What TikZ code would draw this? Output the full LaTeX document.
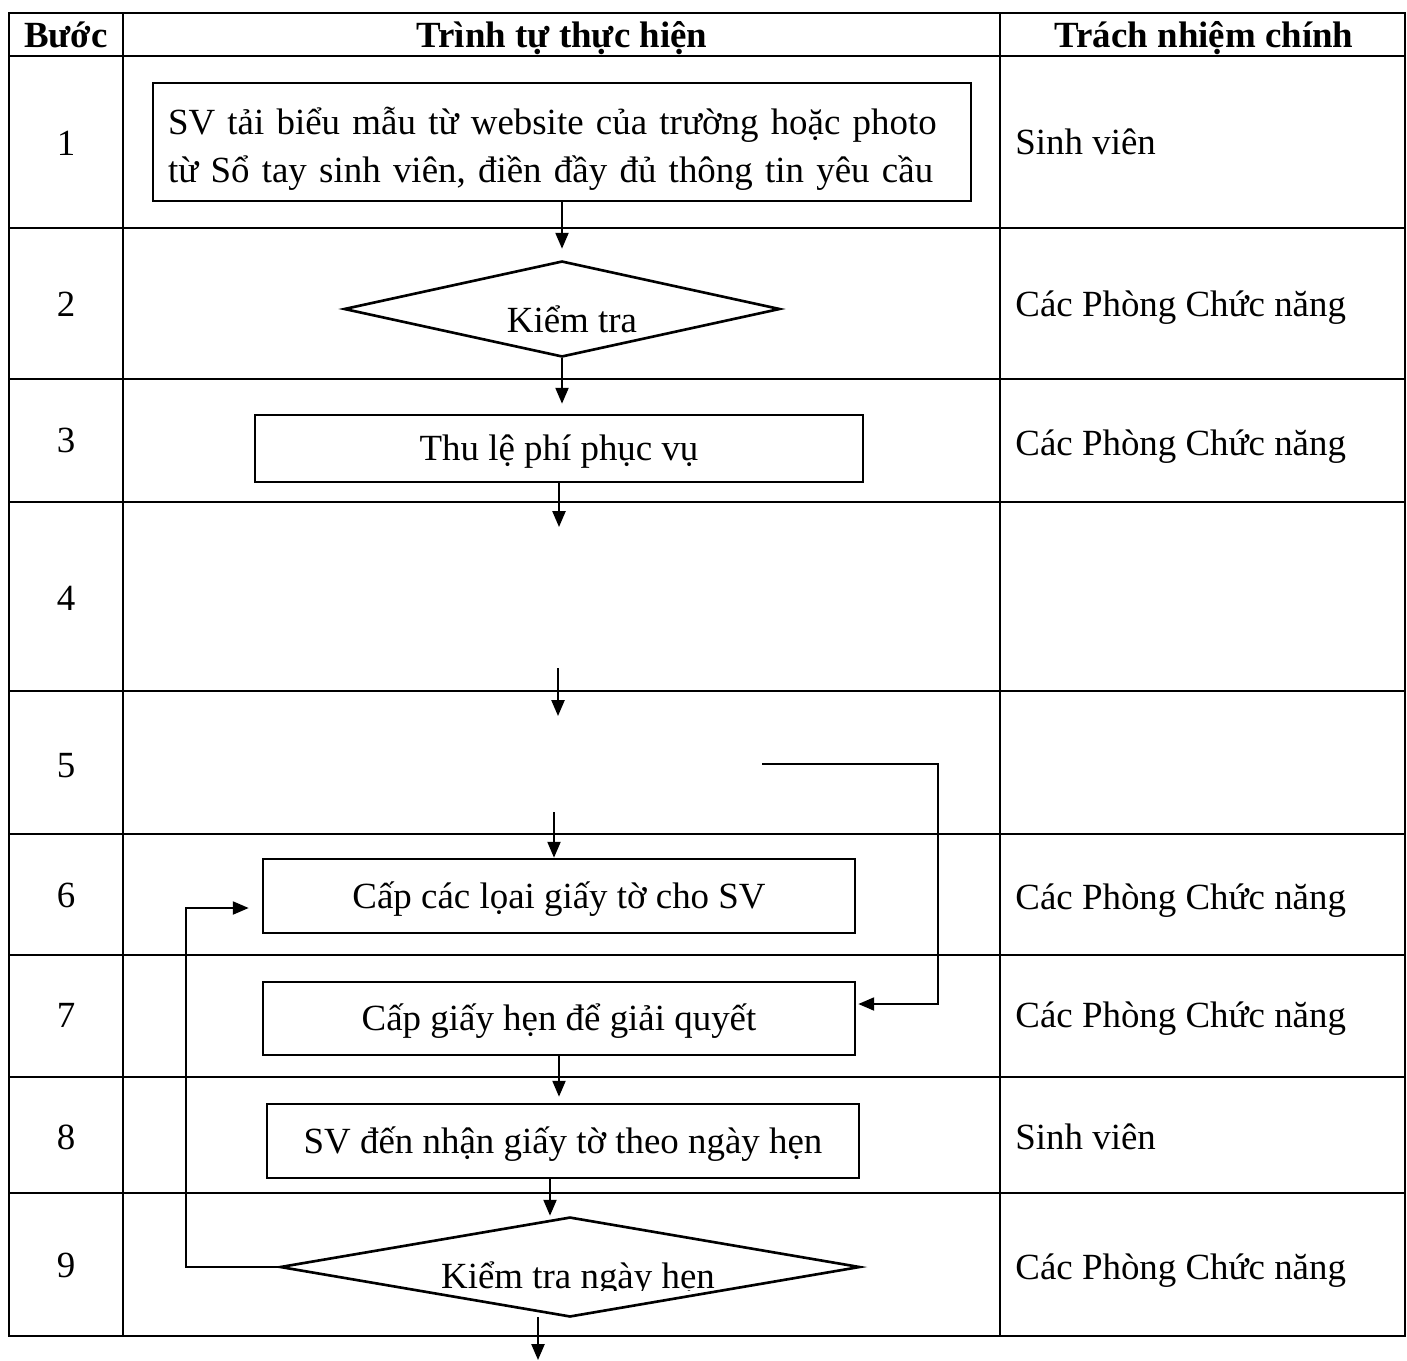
\documentclass[tikz,border=0pt]{standalone}
\usepackage{fontspec}
\setmainfont{Liberation Serif}
\usetikzlibrary{shapes.geometric, arrows.meta}

\tikzset{
  tableline/.style={line width=0.75pt},
  procbox/.style={draw, line width=0.75pt, inner sep=0pt},
  oneline/.style={text height=0.24cm, text depth=0pt},
  decision/.style={draw, diamond, line width=0.75pt, inner sep=0pt},
  arr/.style={line width=0.55pt, -{Triangle[length=4.5pt,width=3.7pt]}},
}

\begin{document}
\begin{tikzpicture}[font=\fontsize{10.5}{13.9}\selectfont]
    \useasboundingbox (0,0) rectangle (14.07,-13.60);

    % Draw the table rules
    \draw[tableline] (0.09,-0.13) rectangle (14.05,-13.36);
    \foreach \y in {0.56,2.28,3.79,5.02,6.91,8.34,9.55,10.77,11.93}
        \draw[tableline] (0.09,-\y) -- (14.05,-\y);
    \foreach \x in {1.23,10.00}
        \draw[tableline] (\x,-0.13) -- (\x,-13.36);

    % Header row
    \node[anchor=base] (hstep) at (0.66,-0.48) {\bfseries Bước};
    \node[anchor=base] (horder) at (5.62,-0.48) {\bfseries Trình tự thực hiện};
    \node[anchor=base] (hresp) at (12.04,-0.48) {\bfseries Trách nhiệm chính};

    % Step numbers
    \foreach \n/\y in {1/1.56,2/3.17,3/4.52,4/6.10,5/7.77,6/9.07,7/10.27,8/11.49,9/12.77}
        \node[anchor=base] (num\n) at (0.66,-\y) {\n};

    % Responsibility column
    \foreach \r/\y/\t in {1/1.55/Sinh viên,2/3.17/Các Phòng Chức năng,3/4.55/Các Phòng Chức năng,6/9.09/Các Phòng Chức năng,7/10.27/Các Phòng Chức năng,8/11.49/Sinh viên,9/12.79/Các Phòng Chức năng}
        \node[anchor=base west] (resp\r) at (10.03,-\y) {\t};

    % Flow boxes
    \node[procbox, minimum width=8.18cm, minimum height=1.18cm, text width=7.88cm, text height=0.41cm, align=left] (s1) at (5.62,-1.42)
        {SV tải biểu mẫu từ website của trường hoặc photo\\từ Sổ tay sinh viên, điền đầy đủ thông tin yêu cầu};
    \node[decision, minimum width=4.36cm, minimum height=0.96cm] (s2) at (5.62,-3.09) {};
    \node[anchor=base] (s2txt) at (5.72,-3.32) {Kiểm tra};
    \node[procbox, oneline, minimum width=6.08cm, minimum height=0.67cm] (s3) at (5.59,-4.485) {Thu lệ phí phục vụ};
    \node[procbox, oneline, minimum width=5.92cm, minimum height=0.74cm] (s6) at (5.59,-8.96) {Cấp các lọai giấy tờ cho SV};
    \node[procbox, oneline, minimum width=5.92cm, minimum height=0.73cm] (s7) at (5.59,-10.185) {Cấp giấy hẹn để giải quyết};
    \node[procbox, oneline, minimum width=5.92cm, minimum height=0.74cm] (s8) at (5.63,-11.41) {SV đến nhận giấy tờ theo ngày hẹn};
    \node[decision, minimum width=5.80cm, minimum height=1.00cm] (s9) at (5.70,-12.67) {};
    \begin{scope}
        \clip (2.8,-12.0) rectangle (8.6,-12.90);
        \node[anchor=base] (s9txt) at (5.78,-12.88) {Kiểm tra ngày hẹn};
    \end{scope}

    % Free ends of the connectors
    \coordinate (c4top) at (5.59,-5.27);
    \coordinate (c4bot) at (5.58,-6.68);
    \coordinate (c5top) at (5.58,-7.16);
    \coordinate (c5in) at (5.54,-8.12);
    \coordinate (c5r) at (7.62,-7.64);
    \coordinate (c5corner) at (9.38,-7.64);
    \coordinate (loopx) at (1.86,-12.67);
    \coordinate (c9out) at (5.38,-13.17);
    \coordinate (c10) at (5.38,-13.60);

    % Connectors
    \draw[arr, shorten >=0.11cm] (s1.south) -- (s2.north);
    \draw[arr, shorten >=0.10cm] (s2.south) -- (s2.south |- s3.north);
    \draw[arr] (s3.south) -- (c4top);
    \draw[arr] (c4bot) -- (c5top);
    \draw[arr] (c5in) -- (c5in |- s6.north);
    \draw[arr, shorten >=0.02cm] (c5r) -- (c5corner) |- ([yshift=0.145cm]s7.east);
    \draw[arr, shorten >=0.06cm] (s7.south) -- (s7.south |- s8.north);
    \draw[arr] ([xshift=-0.13cm]s8.south) -- ([xshift=-0.13cm]s8.south |- s9.north);
    \draw[arr, shorten >=0.13cm] (s9.west) -- (loopx) |- ([yshift=-0.12cm]s6.west);
    \draw[arr] (c9out) -- (c10);
\end{tikzpicture}
\end{document}
